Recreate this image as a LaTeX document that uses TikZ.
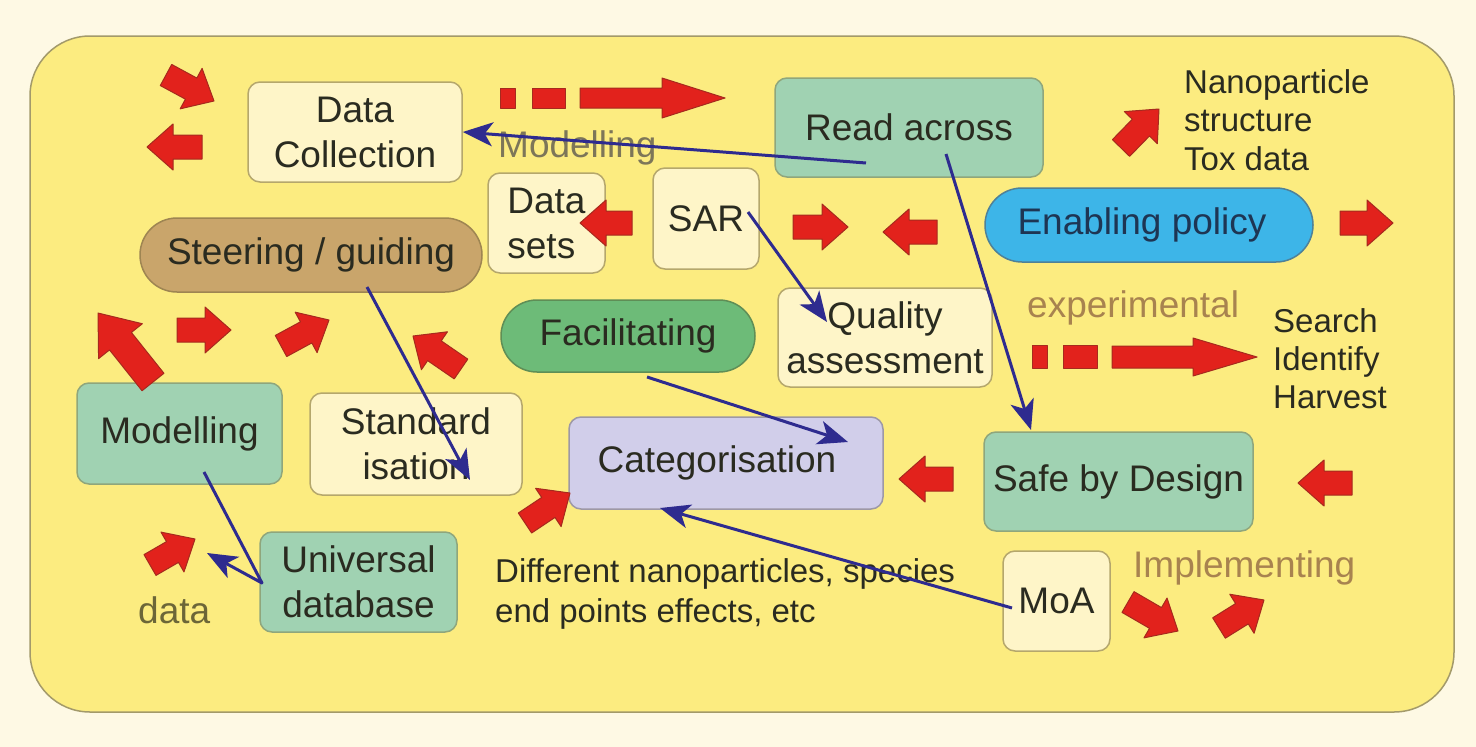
\documentclass[tikz,border=0pt]{standalone}
\usepackage{fontspec}
\setmainfont{Liberation Sans}
\usetikzlibrary{arrows.meta,calc}

\definecolor{page}{HTML}{FEF9E4}
\definecolor{panel}{HTML}{FCEC80}
\definecolor{panelline}{HTML}{A39A6A}
\definecolor{paleFill}{HTML}{FEF5C8}
\definecolor{paleLine}{HTML}{B5A76C}
\definecolor{tealFill}{HTML}{A0D2B2}
\definecolor{tealLine}{HTML}{8FA67C}
\definecolor{tanFill}{HTML}{C9A56B}
\definecolor{tanLine}{HTML}{9E8552}
\definecolor{greenFill}{HTML}{6DBB78}
\definecolor{greenLine}{HTML}{5F8E56}
\definecolor{skyFill}{HTML}{3DB5E8}
\definecolor{skyLine}{HTML}{4F8198}
\definecolor{lilacFill}{HTML}{D1CEEA}
\definecolor{lilacLine}{HTML}{9D98A6}
\definecolor{ink}{HTML}{2A2B20}
\definecolor{policyInk}{HTML}{1E3553}
\definecolor{navy}{HTML}{2E2B8F}
\definecolor{arrowRed}{HTML}{E2221C}
\definecolor{arrowEdge}{HTML}{A62A1E}
\definecolor{mutedText}{HTML}{7D7658}
\definecolor{tanText}{HTML}{A8834F}
\definecolor{oliveText}{HTML}{6C6638}

% red block arrow: tail point, tip point, shaft half-width, head half-width, head length
\newcommand\blockarrow[5]{%
  \filldraw[redarrow] let \p1=(#1), \p2=(#2),
    \n1={atan2(\y2-\y1,\x2-\x1)}, \n2={veclen(\x2-\x1,\y2-\y1)} in
    [shift={(\p1)}, rotate=\n1]
    (0pt,-#3pt) -- ({(\n2-#5)*1pt},-#3pt) -- ({(\n2-#5)*1pt},-#4pt)
    -- ({\n2*1pt},0pt) -- ({(\n2-#5)*1pt},#4pt) -- ({(\n2-#5)*1pt},#3pt)
    -- (0pt,#3pt) -- cycle;}

\tikzset{
  box/.style={rectangle, rounded corners=12pt, line width=1.5pt, inner sep=0pt,
    align=center, font=\fontsize{37}{45}\selectfont, text=ink},
  pale/.style={box, fill=paleFill, draw=paleLine},
  teal/.style={box, fill=tealFill, draw=tealLine},
  note/.style={inner sep=0pt, font=\fontsize{33}{38.5}\selectfont, text=ink, align=left},
  word/.style={inner sep=0pt, font=\fontsize{37}{45}\selectfont},
  link/.style={draw=navy, line width=3pt, -{Stealth[length=30pt,width=24pt,inset=8pt]}},
  redarrow/.style={fill=arrowRed, draw=arrowEdge, line width=1pt, line join=round}
}

\begin{document}
\begin{tikzpicture}[x=1pt,y=-1pt]
\useasboundingbox (0,0) rectangle (1476,747);
\fill[page] (0,0) rectangle (1476,747);
\draw[fill=panel, draw=panelline, line width=1.5pt, rounded corners=60pt]
  (30,36) rectangle (1454,712);

% boxes
\node[pale, minimum width=214pt, minimum height=100pt] (dc) at (355,132) {Data\\Collection};
\node[teal, minimum width=268pt, minimum height=99pt] (read) at (909,127.5) {Read across};
\node[pale, minimum width=117pt, minimum height=100pt, align=left] (dsets) at (546.5,223) {Data\\sets};
\node[pale, minimum width=106pt, minimum height=101pt] (sar) at (706,218.5) {SAR};
\node[box, fill=skyFill, draw=skyLine, rounded corners=37pt, text=policyInk,
  minimum width=328pt, minimum height=74pt] (enab) at (1149,225) {Enabling policy\hspace*{14pt}};
\node[box, fill=tanFill, draw=tanLine, rounded corners=37pt,
  minimum width=342pt, minimum height=74pt] (steer) at (311,255) {Steering / guiding};
\node[box, fill=greenFill, draw=greenLine, rounded corners=36pt,
  minimum width=254pt, minimum height=72pt] (facil) at (628,336) {Facilitating};
\node[pale, minimum width=214pt, minimum height=99pt] (qual) at (885,337.5) {Quality\\assessment};
\node[teal, minimum width=205pt, minimum height=101pt] (model) at (179.5,433.5) {Modelling};
\node[pale, minimum width=212pt, minimum height=102pt] (stand) at (416,444) {Standard\\isation};
\node[box, fill=lilacFill, draw=lilacLine, minimum width=314pt, minimum height=92pt]
  (cat) at (726,463) {Categorisation\hspace*{18pt}};
\node[teal, minimum width=269pt, minimum height=99pt] (safe) at (1118.5,481.5) {Safe by Design};
\node[teal, minimum width=197pt, minimum height=100pt] (univ) at (358.5,582) {Universal\\database};
\node[pale, minimum width=107pt, minimum height=100pt] (moa) at (1056.5,601) {MoA};

% free labels
\node[word, text=mutedText, anchor=base west] (modtxt) at (498,157) {Modelling};
\node[note, anchor=north west] (nano) at (1184,69) {Nanoparticle\\structure\\Tox data};
\node[word, text=tanText, anchor=base west] (exper) at (1027,317) {experimental};
\node[note, anchor=north west, font=\fontsize{33}{38}\selectfont] (search) at (1273,308) {Search\\Identify\\Harvest};
\node[word, text=tanText, anchor=base west] (impl) at (1133,577) {Implementing};
\node[word, text=oliveText, anchor=base west] (datatxt) at (138,623) {data};
\node[note, anchor=north west, font=\fontsize{33}{40}\selectfont] (diff) at (495,558)
  {Different nanoparticles, species\\end points effects, etc};

% red block arrows
\blockarrow{166,75}{214,101}{12}{23}{26}
\blockarrow{202,147}{147,147}{12}{23}{26}
\filldraw[redarrow] (500,88) rectangle (515,108);
\filldraw[redarrow] (532,88) rectangle (565,108);
\blockarrow{580,98}{725,98}{10}{20}{63}
\blockarrow{632,223}{580,223}{12}{23}{26}
\blockarrow{793,227}{848,227}{12}{23}{26}
\blockarrow{937,232}{883,232}{12}{23}{26}
\blockarrow{1121,148}{1159,109}{12}{23}{26}
\blockarrow{1340,223}{1393,223}{12}{23}{26}
\blockarrow{153,382}{98,313}{14}{28}{36}
\blockarrow{177,330}{231,330}{12}{23}{26}
\blockarrow{281,346}{329,320}{12}{23}{26}
\blockarrow{461,369}{413,336}{12}{23}{26}
\blockarrow{953,479}{899,479}{12}{23}{26}
\blockarrow{1352,483}{1298,483}{12}{23}{26}
\filldraw[redarrow] (1032,345) rectangle (1047,368);
\filldraw[redarrow] (1063,345) rectangle (1097,368);
\blockarrow{1112,357}{1257,357}{11}{19}{64}
\blockarrow{525,523}{570,493}{12}{23}{26}
\blockarrow{150,565}{195,539}{12}{23}{26}
\blockarrow{1128,602}{1178,631}{12}{23}{26}
\blockarrow{1219,628}{1264,600}{12}{23}{26}

% connector end points
\coordinate (readW) at (866,163);
\coordinate (readS) at (946,154);
\coordinate (safeTop) at (1031,430);
\coordinate (sarE) at (748,212);
\coordinate (qualIn) at (827,322);
\coordinate (steerS) at (367,287);
\coordinate (standIn) at (470,480);
\coordinate (facilS) at (647,377);
\coordinate (catIn) at (848,442);
\coordinate (moaW) at (1012,608);
\coordinate (catS) at (660,508);
\coordinate (modelS) at (204,472);
\coordinate (univW) at (262,583);
\coordinate (dataTip) at (207,553);

% blue links
\draw[link] (readW) -- (dc.east);
\draw[link] (sarE) -- (qualIn);
\draw[link] (readS) -- (safeTop);
\draw[link] (steerS) -- (standIn);
\draw[link] (facilS) -- (catIn);
\draw[link] (moaW) -- (catS);
\draw[link, line join=round] (modelS) -- (univW) -- (dataTip);
\end{tikzpicture}
\end{document}
